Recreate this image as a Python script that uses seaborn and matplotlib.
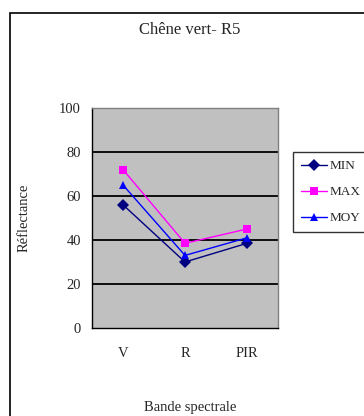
import seaborn as sns
import matplotlib.pyplot as plt
import pandas as pd
from matplotlib.patches import Rectangle
from matplotlib.ticker import FixedLocator, NullFormatter

bands = ['V', 'R', 'PIR']
min_vals = [56, 30, 38.5]
max_vals = [72, 38.5, 45]
moy_vals = [65, 33, 41]

series = ['MIN', 'MAX', 'MOY']
colors = {'MIN': '#000080', 'MAX': '#FF00FF', 'MOY': '#0000FF'}
markers = {'MIN': 'D', 'MAX': 's', 'MOY': '^'}

df = pd.DataFrame({
    'band': bands * 3,
    'value': min_vals + max_vals + moy_vals,
    'serie': ['MIN'] * 3 + ['MAX'] * 3 + ['MOY'] * 3,
})

sns.set_style('white')
plt.rcParams['font.family'] = ['Liberation Serif', 'DejaVu Serif']

fig = plt.figure(figsize=(3.64, 4.16), dpi=100)
ax = fig.add_axes([92 / 364, 88 / 416, 186 / 364, 220 / 416])

sns.lineplot(data=df, x='band', y='value', hue='serie', style='serie',
             palette=colors, markers=markers, dashes=False, sort=False,
             lw=1, markersize=6, markeredgewidth=0, ax=ax, legend=False)

ax.set_facecolor('#C0C0C0')
ax.set_xlim(-0.5, 2.5)
ax.set_ylim(0, 100)
ax.set_yticks([0, 20, 40, 60, 80, 100])
ax.set_xticks([0, 1, 2])
ax.set_xticklabels(bands)
ax.xaxis.set_minor_locator(FixedLocator([-0.5, 0.5, 1.5, 2.5]))
ax.xaxis.set_minor_formatter(NullFormatter())
ax.tick_params(axis='x', which='major', length=0, pad=14, labelsize=10.5)
ax.tick_params(axis='x', which='minor', length=5, width=1, color='black', direction='out')
ax.tick_params(axis='y', length=5, width=1, color='black', direction='out', labelsize=10.5, pad=3)
for y in [20, 40, 60, 80]:
    ax.axhline(y, color='black', lw=1.3, zorder=1)
for side in ['top', 'right']:
    ax.spines[side].set_color('#808080')
    ax.spines[side].set_linewidth(1)
for side in ['left', 'bottom']:
    ax.spines[side].set_color('black')
    ax.spines[side].set_linewidth(1)
ax.set_xlabel('')
ax.set_ylabel('')

fig.text(190 / 364, 1 - 30 / 416, 'Chêne vert- R5', ha='center', va='center', fontsize=12)
fig.text(24 / 364, 1 - 218 / 416, 'Réflectance', ha='center', va='center', rotation=90, fontsize=10.5)
fig.text(190 / 364, 1 - 407 / 416, 'Bande spectrale', ha='center', va='center', fontsize=10.5)

handles = [plt.Line2D([], [], color=colors[s], marker=markers[s], lw=1, markersize=6,
                      markeredgewidth=0) for s in series]
leg = fig.legend(handles, series, loc='upper left', bbox_to_anchor=(293 / 364, 1 - 152 / 416),
                 frameon=True, fancybox=False, fontsize=9.5, handlelength=2.0,
                 handletextpad=0.15, borderpad=0.6, borderaxespad=0, labelspacing=1.05)
leg.get_frame().set_edgecolor('black')
leg.get_frame().set_linewidth(1)

fig.add_artist(Rectangle((10 / 364, -0.1), 1.0, 1 - 13 / 416 + 0.1, transform=fig.transFigure,
                         fill=False, edgecolor='black', lw=1.2))

fig.savefig('out.png', dpi=100)
